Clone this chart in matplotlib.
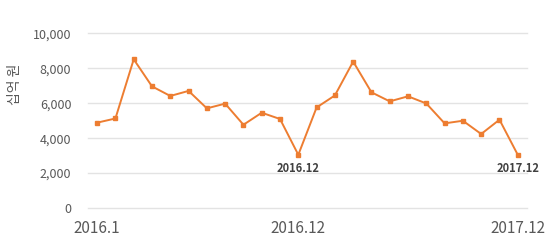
import matplotlib.pyplot as plt
from matplotlib.ticker import FuncFormatter

plt.rcParams['font.family'] = ['Noto Sans CJK KR', 'DejaVu Sans']

# monthly values, 2016.1 ~ 2017.12 (unit: 십억 원)
months = [f"2016.{m}" for m in range(1, 13)] + [f"2017.{m}" for m in range(1, 13)]
values = [4890, 5130, 8520, 6970, 6420, 6710, 5710, 5980, 4770, 5460, 5100, 3050,
          5760, 6450, 8390, 6630, 6110, 6400, 5990, 4850, 5000, 4240, 5060, 3050]
tick_labels = ["2016.1", "2016.12", "2017.12"]
annotated = ["2016.12", "2017.12"]

x = list(range(len(months)))
gray = "#595959"

fig = plt.figure(figsize=(5.5, 2.42), dpi=100)
ax = fig.add_axes([0.16, 0.1405, 0.798, 0.7211])

ax.plot(x, values, color="#ED7D31", linewidth=1.4, marker="s", markersize=3, zorder=3)

ax.set_ylim(0, 10000)
ax.set_yticks(range(0, 10001, 2000))
ax.yaxis.set_major_formatter(FuncFormatter(lambda v, p: f"{int(v):,}"))
ax.set_xlim(-0.5, len(months) - 0.5)
ax.set_xticks([months.index(t) for t in tick_labels])
ax.set_xticklabels(tick_labels)

ax.grid(axis="y", color="#E3E3E3", linewidth=1)
for gl in ax.get_ygridlines():
    gl.set_clip_on(False)
ax.set_axisbelow(True)
for s in ax.spines.values():
    s.set_visible(False)
ax.tick_params(axis="y", length=0, pad=12, labelsize=9, labelcolor=gray)
ax.tick_params(axis="x", length=0, pad=9, labelsize=11, labelcolor=gray)

for lab in annotated:
    i = months.index(lab)
    ax.annotate(lab, (x[i], values[i]), xytext=(0, -10), textcoords="offset points",
                ha="center", va="center", fontsize=8, fontweight="bold", color="#404040")

fig.text(0.028, 0.65, "십억 원", rotation=90, ha="center", va="center", fontsize=10, color=gray)

fig.savefig("out.png", dpi=100)
